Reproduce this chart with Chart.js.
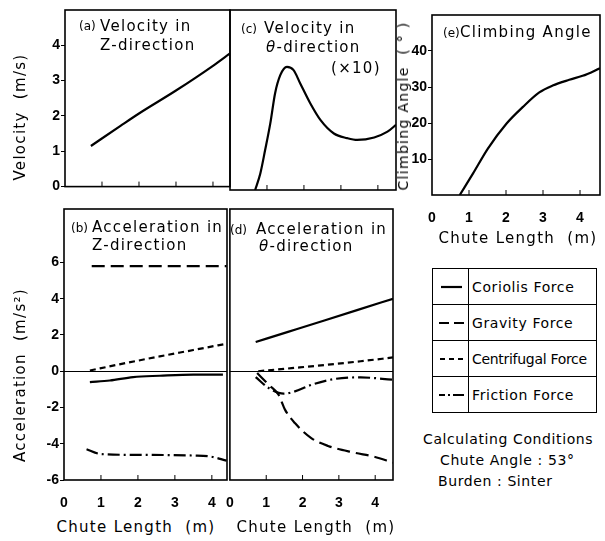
<!DOCTYPE html>
<html lang="en">
<head>
<meta charset="UTF-8">
<title>Chute Motion</title>
<script src="https://cdn.jsdelivr.net/npm/chart.js"></script>
<style>
  body { margin: 0; background: #fff; }
  #wrap { position: relative; width: 605px; height: 541px; overflow: hidden; background: #fff; font-family: "DejaVu Sans", sans-serif; color: #000; }
  canvas { position: absolute; }
  .t { position: absolute; white-space: nowrap; font-size: 15px; letter-spacing: 1.3px; line-height: 1; transform: translateY(-50%); }
  .tag { font-size: 12px; letter-spacing: 0; }
  .c { transform: translate(-50%, -50%); }
  .rot { transform: translate(-50%, -50%) rotate(-90deg); }
  #legend { position: absolute; left: 432px; top: 268px; width: 165px; height: 145px; border-collapse: collapse; border: 1.5px solid #000; }
  #legend td { border: 1px solid #000; height: 35px; padding: 0; font-size: 14px; letter-spacing: 0.6px; white-space: nowrap; }
  #legend td.s { width: 35px; text-align: center; }
  #legend td.n { padding-left: 3px; }
  #legend svg { display: block; margin: 0 auto; }
</style>
</head>
<body>
<div id="wrap">
  <canvas id="ca"></canvas>
  <canvas id="cc"></canvas>
  <canvas id="ce"></canvas>
  <canvas id="cb"></canvas>
  <canvas id="cd"></canvas>

  <div class="t" style="left:79px;top:25px"><span class="tag">(a)</span></div>
  <div class="t" style="left:100px;top:26px">Velocity in</div>
  <div class="t" style="left:100px;top:45px">Z-direction</div>

  <div class="t" style="left:241px;top:28px"><span class="tag">(c)</span></div>
  <div class="t" style="left:264px;top:28px">Velocity in</div>
  <div class="t" style="left:266px;top:47px"><i>θ</i>-direction</div>
  <div class="t" style="left:331px;top:68px">(×10)</div>

  <div class="t" style="left:443px;top:32px"><span class="tag">(e)</span></div>
  <div class="t" style="left:460px;top:32px">Climbing Angle</div>

  <div class="t" style="left:71px;top:227px"><span class="tag">(b)</span></div>
  <div class="t" style="left:92px;top:227px">Acceleration in</div>
  <div class="t" style="left:92px;top:245px">Z-direction</div>

  <div class="t" style="left:230px;top:229px"><span class="tag">(d)</span></div>
  <div class="t" style="left:256px;top:229px">Acceleration in</div>
  <div class="t" style="left:259px;top:246px"><i>θ</i>-direction</div>

  <div class="t rot" style="left:20px;top:117px">Velocity&nbsp; (m/s)</div>
  <div class="t rot" style="left:20px;top:375px">Acceleration&nbsp; (m/s²)</div>
  <div class="t rot" style="left:403px;top:106px;font-size:14px">Climbing Angle&nbsp; ( ° )</div>
  <div class="t c" style="left:136px;top:527px">Chute Length&nbsp; (m)</div>
  <div class="t c" style="left:316px;top:527px">Chute Length&nbsp; (m)</div>
  <div class="t c" style="left:518px;top:238px">Chute Length&nbsp; (m)</div>

  <table id="legend">
    <tr><td class="s"><svg width="26" height="6"><line x1="3" y1="3" x2="24" y2="3" stroke="#000" stroke-width="2.2"/></svg></td><td class="n">Coriolis Force</td></tr>
    <tr><td class="s"><svg width="28" height="6"><line x1="2" y1="3" x2="27" y2="3" stroke="#000" stroke-width="2.2" stroke-dasharray="10 5"/></svg></td><td class="n">Gravity Force</td></tr>
    <tr><td class="s"><svg width="28" height="6"><line x1="3" y1="3" x2="26" y2="3" stroke="#000" stroke-width="2" stroke-dasharray="5 4"/></svg></td><td class="n" style="letter-spacing:-0.3px">Centrifugal Force</td></tr>
    <tr><td class="s"><svg width="28" height="6"><line x1="2" y1="3" x2="27" y2="3" stroke="#000" stroke-width="2.2" stroke-dasharray="6 3 2 3 14"/></svg></td><td class="n">Friction Force</td></tr>
  </table>

  <div class="t" style="left:423px;top:439px;font-size:14px;letter-spacing:0.6px">Calculating Conditions</div>
  <div class="t" style="left:440px;top:460px;font-size:14px;letter-spacing:0.6px">Chute Angle : 53°</div>
  <div class="t" style="left:438px;top:481px;font-size:14px;letter-spacing:0.6px">Burden : Sinter</div>
</div>

<script>
// tick labels
const xTicks = [0, 1, 2, 3, 4];
const velTicks = [0, 1, 2, 3, 4];
const accTicks = [-6, -4, -2, 0, 2, 4, 6];
const angleTicks = [10, 20, 30, 40];

// (a) velocity in Z-direction
const velZx = [0.7, 1.5, 2, 3, 4, 4.46];
const velZ = [1.15, 1.72, 2.07, 2.72, 3.42, 3.77];

// (c) velocity in theta-direction (x10)
const velTx = [0.68, 0.82, 0.95, 1.09, 1.22, 1.36, 1.54, 1.72, 1.9, 2.17, 2.45, 2.81, 3.17, 3.44, 3.9, 4.26, 4.49];
const velT = [0, 0.46, 1.11, 1.85, 2.69, 3.19, 3.42, 3.33, 2.96, 2.41, 1.94, 1.57, 1.44, 1.39, 1.46, 1.62, 1.81];

// (e) climbing angle
const angleX = [0.75, 1.11, 1.51, 2.01, 2.45, 2.9, 3.26, 3.71, 4.07, 4.54];
const angle = [0, 6.0, 12.9, 19.8, 24.4, 28.5, 30.4, 32.0, 33.1, 35.2];

// (b) acceleration in Z-direction
const corZx = [0.7, 1.24, 1.87, 2.59, 3.5, 4.3];
const corZ = [-0.6, -0.51, -0.32, -0.25, -0.19, -0.19];
const gravZx = [0.75, 2, 3, 4.4];
const gravZ = [5.8, 5.8, 5.8, 5.8];
const centZx = [0.7, 1.5, 2.59, 3.5, 4.4];
const centZ = [0.04, 0.38, 0.82, 1.17, 1.52];
const fricZx = [0.61, 0.97, 1.7, 3.5, 3.95, 4.4];
const fricZ = [-4.3, -4.56, -4.61, -4.65, -4.7, -4.93];

// (d) acceleration in theta-direction
const corTx = [0.71, 1.6, 2.6, 3.5, 4.49];
const corT = [1.61, 2.17, 2.8, 3.37, 4.0];
const gravTx = [0.75, 1.07, 1.34, 1.52, 1.79, 2.24, 2.7, 3.42, 3.96, 4.49];
const gravT = [-0.1, -0.75, -1.3, -2.13, -2.86, -3.69, -4.12, -4.49, -4.71, -5.04];
const centTx = [0.78, 1.7, 2.7, 3.6, 4.49];
const centT = [0.0, 0.17, 0.36, 0.55, 0.76];
const fricTx = [0.71, 1.07, 1.48, 1.79, 2.24, 2.87, 3.6, 4.49];
const fricT = [-0.32, -0.93, -1.24, -1.11, -0.75, -0.43, -0.34, -0.47];

const dash = { coriolis: [], gravity: [13, 6], centrifugal: [6, 4], friction: [12, 4, 2, 4] };
const tickFont = { family: "'Liberation Sans', Arial, sans-serif", size: 14, weight: 'bold' };

const pts = (xs, ys) => xs.map((x, i) => ({ x: x, y: ys[i] }));
const line = (xs, ys, d) => ({
  data: pts(xs, ys), borderColor: '#000', borderWidth: 2.2, borderDash: d,
  pointRadius: 0, cubicInterpolationMode: 'monotone', fill: false
});

// box outline + inward x ticks
const frame = {
  id: 'frame',
  afterDraw(chart) {
    const a = chart.chartArea, xs = chart.scales.x, ctx = chart.ctx;
    ctx.save();
    ctx.strokeStyle = '#000';
    ctx.lineWidth = 1;
    xs.ticks.forEach(t => {
      const px = xs.getPixelForValue(t.value);
      if (px <= a.left + 1 || px >= a.right - 1) return;
      ctx.beginPath();
      ctx.moveTo(px, a.bottom);
      ctx.lineTo(px, a.bottom - 5);
      ctx.stroke();
    });
    ctx.lineWidth = 1.6;
    ctx.strokeRect(a.left, a.top, a.right - a.left, a.bottom - a.top);
    ctx.restore();
  }
};

function panel(id, box, m, o) {
  const c = document.getElementById(id);
  c.width = m.l + (box.r - box.l) + m.r;
  c.height = m.t + (box.b - box.t) + m.b;
  c.style.left = (box.l - m.l) + 'px';
  c.style.top = (box.t - m.t) + 'px';
  new Chart(c, {
    type: 'line',
    data: { datasets: o.datasets },
    options: {
      responsive: false, animation: false, devicePixelRatio: 1,
      layout: { padding: { left: 0, top: m.t, right: m.r, bottom: 0 } },
      plugins: { legend: { display: false }, tooltip: { enabled: false } },
      scales: {
        x: {
          type: 'linear', min: 0, max: o.xMax,
          afterBuildTicks: s => { s.ticks = xTicks.map(v => ({ value: v })); },
          afterFit: s => { s.height = m.b; },
          ticks: { display: o.xLabels, font: tickFont, color: '#000', padding: 7, maxRotation: 0, autoSkip: false },
          grid: { display: false },
          border: { display: false }
        },
        y: {
          type: 'linear', min: o.yMin, max: o.yMax,
          afterBuildTicks: s => { s.ticks = o.yTicks.map(v => ({ value: v })); },
          afterFit: s => { s.width = m.l; },
          ticks: { display: o.yLabels, font: tickFont, color: '#000', padding: 1, autoSkip: false },
          grid: {
            color: ctx => (o.zero && ctx.tick && ctx.tick.value === 0) ? '#000' : 'rgba(0,0,0,0)',
            lineWidth: 1, drawTicks: o.yLabels, tickLength: 4, tickColor: '#000'
          },
          border: { display: false }
        }
      }
    },
    plugins: [frame]
  });
}

panel('ca', { l: 65, t: 10, r: 230, b: 190 }, { l: 65, t: 10, r: 4, b: 6 }, {
  xMax: 4.46, yMin: 0, yMax: 5, yTicks: velTicks, xLabels: false, yLabels: true,
  datasets: [line(velZx, velZ, dash.coriolis)]
});
panel('cc', { l: 230, t: 10, r: 396, b: 190 }, { l: 8, t: 10, r: 6, b: 6 }, {
  xMax: 4.49, yMin: 0, yMax: 5, yTicks: velTicks, xLabels: false, yLabels: false,
  datasets: [line(velTx, velT, dash.coriolis)]
});
panel('ce', { l: 432, t: 15, r: 600, b: 195 }, { l: 40, t: 10, r: 4, b: 30 }, {
  xMax: 4.54, yMin: 0, yMax: 50, yTicks: angleTicks, xLabels: true, yLabels: true,
  datasets: [line(angleX, angle, dash.coriolis)]
});
panel('cb', { l: 64, t: 209, r: 227, b: 480 }, { l: 64, t: 10, r: 4, b: 30 }, {
  xMax: 4.41, yMin: -6, yMax: 8.95, yTicks: accTicks, xLabels: true, yLabels: true, zero: true,
  datasets: [
    line(corZx, corZ, dash.coriolis),
    line(gravZx, gravZ, dash.gravity),
    line(centZx, centZ, dash.centrifugal),
    line(fricZx, fricZ, dash.friction)
  ]
});
panel('cd', { l: 227, t: 209, r: 393, b: 480 }, { l: 8, t: 10, r: 6, b: 30 }, {
  xMax: 4.49, yMin: -6, yMax: 8.95, yTicks: accTicks, xLabels: true, yLabels: false, zero: true,
  datasets: [
    line(corTx, corT, dash.coriolis),
    line(gravTx, gravT, dash.gravity),
    line(centTx, centT, dash.centrifugal),
    line(fricTx, fricT, dash.friction)
  ]
});
</script>
</body>
</html>
